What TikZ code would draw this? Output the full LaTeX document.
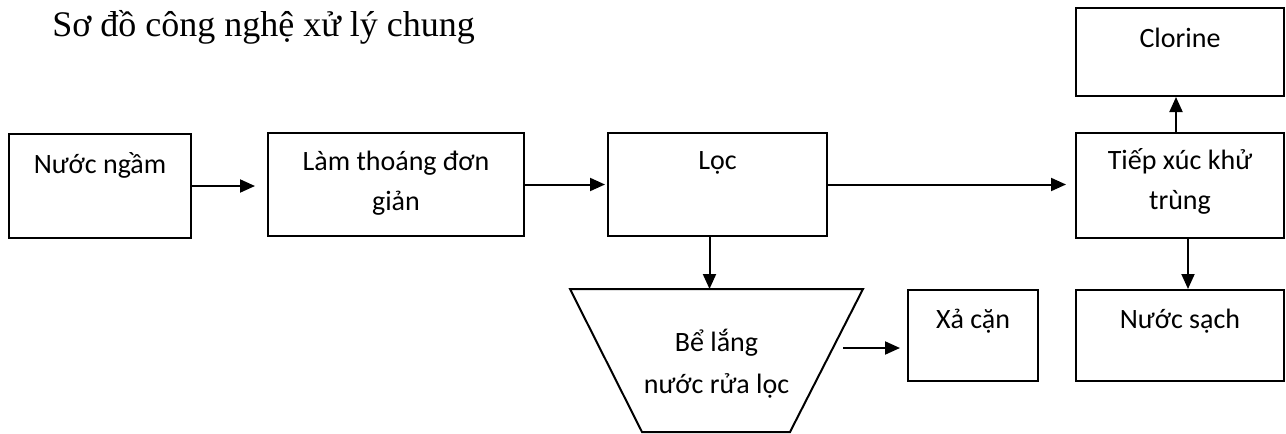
\documentclass[tikz,border=0pt]{standalone}
\usepackage{fontspec}
\setmainfont{Carlito}
\newfontfamily\titlefont{Liberation Serif}
\usetikzlibrary{arrows.meta}

\begin{document}
\begin{tikzpicture}[
  x=0.5pt, y=-0.5pt,
  box/.style={draw, line width=1pt, anchor=north west, inner sep=0pt, align=flush center, font=\fontsize{14}{20}\selectfont},
  tank/.style={draw, line width=1pt, line join=miter},
  tanktext/.style={anchor=base, inner sep=0pt, text width=90pt, align=flush center, font=\fontsize{14}{21}\selectfont},
  arrow/.style={-{Triangle[length=7.5pt,width=6.5pt]}, line width=1pt}
]
  \useasboundingbox (0,0) rectangle (1286,434);
  \node[anchor=base west, inner sep=0pt, font=\titlefont\fontsize{18}{22}\selectfont] (title) at (52,36) {Sơ đồ công nghệ xử lý chung};

  % hang tren
  \node[box, text width=91pt, text height=19.5pt, text depth=32.5pt] (ngam) at (8,133) {Nước ngầm};
  \node[box, text width=128pt, text height=18.5pt, text depth=33pt] (thoang) at (267,132) {Làm thoáng đơn\\giản};
  \node[box, text width=109.5pt, text height=18pt, text depth=33.5pt] (loc) at (607,132) {Lọc};
  \node[box, text width=104pt, text height=18pt, text depth=34.5pt] (khutrung) at (1075,132) {Tiếp xúc khử\\trùng};
  \node[box, text width=104pt, text height=19.5pt, text depth=24.5pt] (clorine) at (1075,7) {Clorine};

  % hang duoi: be lang hinh thang
  \draw[tank] (570,289) coordinate (beltop) -- (863,289) -- (790,432) -- (642,432) -- cycle;
  \coordinate (belout) at (843,348);
  \node[tanktext] (bel) at (716.5,351) {Bể lắng\\nước rửa lọc};
  \node[box, text width=65pt, text height=19pt, text depth=26.5pt] (xacan) at (907,289) {Xả cặn};
  \node[box, text width=104pt, text height=19pt, text depth=26.5pt] (sach) at (1075,289) {Nước sạch};

  \draw[arrow, shorten >=6pt] (ngam.east) -- (ngam.east -| thoang.west);
  \draw[arrow, shorten >=1pt] (thoang.east) -- (thoang.east -| loc.west);
  \draw[arrow, shorten >=4.5pt] (loc.east) -- (loc.east -| khutrung.west);
  \draw[arrow] ([xshift=-4pt]loc.south) -- ([xshift=-4pt]loc.south |- beltop);
  \draw[arrow, shorten >=3.5pt] (belout) -- (belout -| xacan.west);
  \draw[arrow] ([xshift=-2pt]khutrung.north) -- ([xshift=-2pt]khutrung.north |- clorine.south);
  \draw[arrow] ([xshift=4pt]khutrung.south) -- ([xshift=4pt]khutrung.south |- sach.north);
\end{tikzpicture}
\end{document}
